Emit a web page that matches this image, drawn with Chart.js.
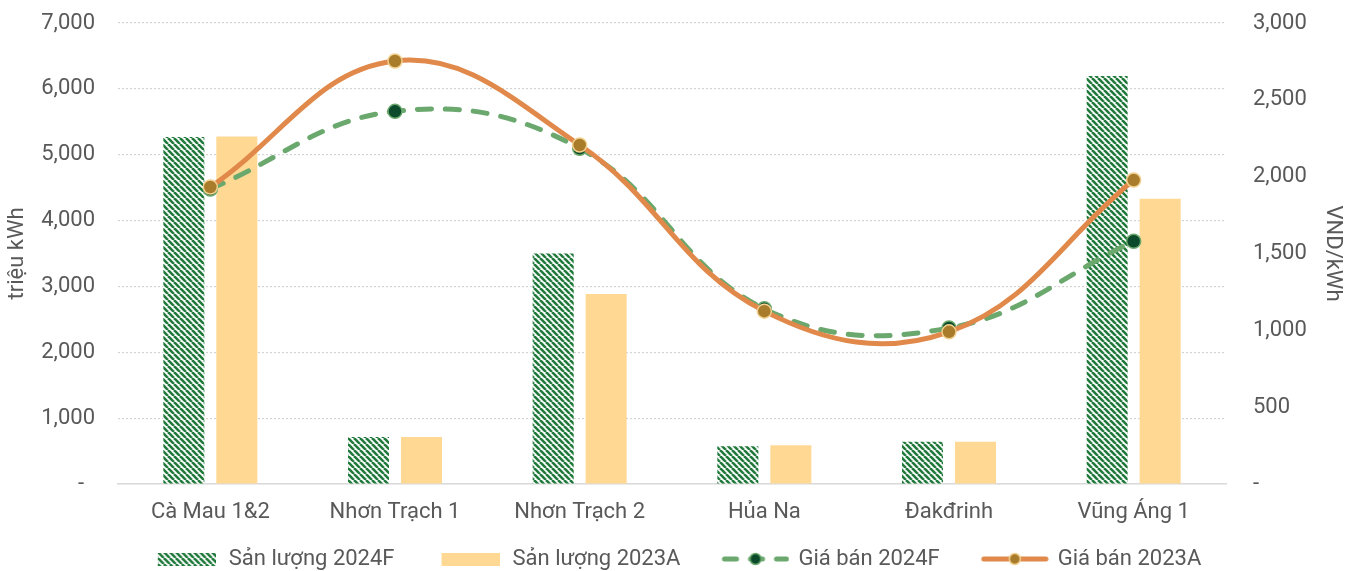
<!DOCTYPE html>
<html>
<head>
<meta charset="utf-8">
<script src="https://cdn.jsdelivr.net/npm/chart.js@4.4.1/dist/chart.umd.min.js"></script>
<style>
  body { margin: 0; background: #fff; }
  #wrap { width: 1355px; height: 571px; }
</style>
</head>
<body>
<div id="wrap"><canvas id="powerChart"></canvas></div>
<script>
const categories = ["Cà Mau 1&2", "Nhơn Trạch 1", "Nhơn Trạch 2", "Hủa Na", "Đakđrinh", "Vũng Áng 1"];
const output2024F = [5270, 715, 3500, 575, 640, 6195];
const output2023A = [5275, 715, 2885, 590, 640, 4330];
const price2024F = [1920, 2425, 2185, 1140, 1015, 1580];
const price2023A = [1933, 2753, 2206, 1125, 990, 1978];

const seriesNames = ["Sản lượng 2024F", "Sản lượng 2023A", "Giá bán 2024F", "Giá bán 2023A"];

const textColor = "#595959";
const stripeGreen = "#217a3c";
const barYellow = "#ffd993";
const lineGreen = "#6aa86d";
const dotGreen = "#0b4a2a";
const lineOrange = "#e0894a";
const dotOrange = "#a87c2b";
const dotOrangeRim = "#f2d08f";

// diagonal stripes like the excel pattern fill
function makeStripes() {
    const s = 6;
    const c = document.createElement("canvas");
    c.width = s; c.height = s;
    const g = c.getContext("2d");
    g.fillStyle = "#fff";
    g.fillRect(0, 0, s, s);
    g.strokeStyle = stripeGreen;
    g.lineWidth = 2.6;
    for (let k = -1; k <= 1; k++) {
        g.beginPath();
        g.moveTo(k * s, 0);
        g.lineTo(k * s + s, s);
        g.stroke();
    }
    return g.createPattern(c, "repeat");
}
const stripes = makeStripes();

// legend symbols, with blank room on the left so items sit apart
const gapLeft = 40;
function boxSymbol(fill) {
    const c = document.createElement("canvas");
    c.width = gapLeft + 60; c.height = 14;
    const g = c.getContext("2d");
    g.fillStyle = fill;
    g.fillRect(gapLeft + 2, 1, 58, 13);
    return c;
}
function lineSymbol(color, dash, dotFill, dotRim) {
    const c = document.createElement("canvas");
    c.width = gapLeft + 68; c.height = 18;
    const g = c.getContext("2d");
    g.translate(gapLeft, 0);
    g.strokeStyle = color;
    g.lineWidth = 5;
    g.lineCap = "round";
    g.setLineDash(dash);
    g.beginPath();
    g.moveTo(3, 9);
    g.lineTo(65, 9);
    g.stroke();
    g.setLineDash([]);
    g.beginPath();
    g.arc(34, 9, 5.5, 0, Math.PI * 2);
    g.fillStyle = dotFill;
    g.fill();
    g.lineWidth = 1.5;
    g.strokeStyle = dotRim;
    g.stroke();
    return c;
}
const legendSymbols = [
    boxSymbol(stripes),
    boxSymbol(barYellow),
    lineSymbol(lineGreen, [12, 14], dotGreen, lineGreen),
    lineSymbol(lineOrange, [], dotOrange, dotOrangeRim)
];

const fmt = v => v === 0 ? "-  " : v.toLocaleString("en-US");

// nudge the legend: down a bit, and left by half the blank room
const legendNudge = {
    id: "legendNudge",
    afterLayout(chart) {
        const lg = chart.legend;
        lg.top += 9; lg.bottom += 9;
        lg.left -= gapLeft / 2; lg.right -= gapLeft / 2;
    }
};

const chartElement = document.getElementById("powerChart");

let datasets = [
    {
        type: "bar",
        label: seriesNames[0],
        data: output2024F,
        backgroundColor: stripes,
        yAxisID: "y",
        order: 2
    },
    {
        type: "bar",
        label: seriesNames[1],
        data: output2023A,
        backgroundColor: barYellow,
        yAxisID: "y",
        order: 3
    },
    {
        type: "line",
        label: seriesNames[2],
        data: price2024F,
        yAxisID: "y1",
        borderColor: lineGreen,
        borderWidth: 5,
        borderDash: [14, 14],
        borderCapStyle: "round",
        tension: 0.4,
        pointRadius: 7,
        pointBackgroundColor: dotGreen,
        pointBorderColor: lineGreen,
        pointBorderWidth: 1.5,
        order: 1
    },
    {
        type: "line",
        label: seriesNames[3],
        data: price2023A,
        yAxisID: "y1",
        borderColor: lineOrange,
        borderWidth: 5,
        tension: 0.4,
        pointRadius: 7,
        pointBackgroundColor: dotOrange,
        pointBorderColor: dotOrangeRim,
        pointBorderWidth: 1.5,
        order: 0
    }
];

const font22 = { family: "Roboto", size: 22 };

const powerChart = new Chart(chartElement, {
    data: { labels: categories, datasets: datasets },
    options: {
        responsive: true,
        maintainAspectRatio: false,
        animation: false,
        layout: { padding: { top: 23, bottom: 0, left: 0, right: 0 } },
        datasets: {
            bar: { categoryPercentage: 0.574, barPercentage: 0.774 }
        },
        plugins: {
            tooltip: { enabled: false },
            legend: {
                position: "bottom",
                labels: {
                    color: textColor,
                    font: font22,
                    usePointStyle: true,
                    pointStyleWidth: gapLeft + 64,
                    padding: 3,
                    generateLabels: chart => chart.data.datasets.map((ds, i) => ({
                        text: ds.label,
                        fontColor: textColor,
                        pointStyle: legendSymbols[i],
                        datasetIndex: i,
                        hidden: false,
                        lineWidth: 0
                    }))
                }
            }
        },
        scales: {
            x: {
                grid: { display: false },
                border: { display: true, color: "#d9d9d9", width: 1.5 },
                ticks: { color: textColor, font: font22, padding: 7 },
                afterFit: scale => {
                    scale.height = 52;
                    scale.paddingLeft = 0;
                    scale.paddingRight = 0;
                }
            },
            y: {
                position: "left",
                min: 0,
                max: 7000,
                ticks: { stepSize: 1000, color: textColor, font: font22, padding: 23, callback: fmt },
                grid: { color: "#d4d4d4", lineWidth: 1.2, drawTicks: false },
                border: { display: false, dash: [2, 2] },
                title: { display: true, text: "triệu kWh", color: textColor, font: font22, padding: { top: 4 } },
                afterFit: scale => {
                    scale.width = 118;
                    scale.paddingTop = 0;
                    scale.paddingBottom = 0;
                }
            },
            y1: {
                position: "right",
                min: 0,
                max: 3000,
                ticks: { stepSize: 500, color: textColor, font: font22, padding: 27, callback: fmt },
                grid: { display: false, drawTicks: false },
                border: { display: false },
                title: { display: true, text: "VND/kWh", color: textColor, font: font22, padding: { top: 9 } },
                afterFit: scale => {
                    scale.width = 129;
                    scale.paddingTop = 0;
                    scale.paddingBottom = 0;
                }
            }
        }
    },
    plugins: [legendNudge]
});
</script>
</body>
</html>
